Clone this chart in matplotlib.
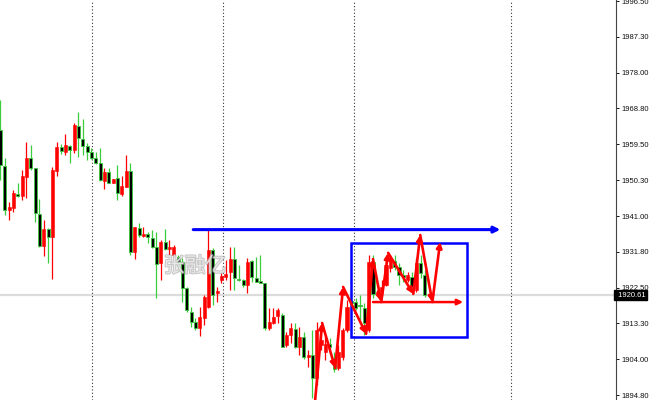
import matplotlib
matplotlib.use("Agg")
import matplotlib.pyplot as plt
import matplotlib.patheffects as pe
from matplotlib.patches import Rectangle

# candle data (one bar per slot)
opens = [1963.2, 1953.9, 1942.6, 1943.1, 1946.7, 1946.2, 1951.1, 1956.0, 1953.4, 1941.5,
         1933.3, 1937.7, 1935.6, 1952.6, 1958.8, 1957.5, 1959.1, 1958.1, 1964.2, 1960.9,
         1959.1, 1957.5, 1956.0, 1954.7, 1950.0, 1952.4, 1949.5, 1950.8, 1946.7, 1948.5,
         1952.6, 1931.7, 1937.9, 1935.9, 1936.4, 1935.3, 1933.0, 1928.9, 1934.3, 1932.5,
         1930.9, 1930.4, 1929.1, 1922.4, 1916.2, 1913.6, 1912.1, 1914.7, 1917.5, 1932.2,
         1921.1, 1924.5, 1925.3, 1926.6, 1929.9, 1924.8, 1924.5, 1923.2, 1929.4, 1925.0,
         1924.2, 1923.7, 1912.1, 1913.4, 1915.2, 1915.4, 1907.7, 1910.3, 1911.8, 1907.2,
         1909.8, 1904.6, 1905.1, 1899.2, 1907.7, 1905.9, 1908.0, 1904.4, 1901.8, 1904.6,
         1911.6, 1919.1, 1918.8, 1918.0, 1917.3, 1911.6, 1929.1, 1920.6, 1921.4, 1923.2,
         1927.6, 1929.4, 1927.8, 1925.8, 1924.5, 1925.3, 1921.9, 1928.9, 1925.8]
highs = [1971.0, 1956.0, 1944.6, 1947.7, 1949.5, 1952.9, 1960.1, 1959.3, 1953.4, 1945.4,
         1940.0, 1937.9, 1953.7, 1960.1, 1959.6, 1962.2, 1959.3, 1965.0, 1967.9, 1966.0,
         1959.9, 1958.6, 1957.5, 1958.6, 1953.4, 1953.4, 1950.6, 1954.2, 1951.3, 1956.7,
         1954.7, 1938.2, 1939.2, 1938.2, 1936.9, 1937.4, 1936.9, 1934.8, 1937.7, 1934.8,
         1933.5, 1930.9, 1930.2, 1922.7, 1917.5, 1914.7, 1917.5, 1920.6, 1937.4, 1932.7,
         1922.7, 1926.3, 1929.7, 1933.0, 1933.0, 1928.4, 1924.8, 1930.2, 1929.7, 1930.4,
         1930.9, 1923.7, 1917.3, 1917.3, 1917.3, 1916.0, 1911.1, 1913.4, 1913.4, 1912.4,
         1911.1, 1906.4, 1911.6, 1913.7, 1911.6, 1910.3, 1909.5, 1905.9, 1907.7, 1912.1,
         1919.3, 1921.9, 1919.9, 1920.6, 1918.6, 1930.9, 1930.9, 1921.9, 1924.5, 1930.2,
         1930.9, 1930.9, 1928.9, 1927.1, 1926.6, 1926.6, 1930.2, 1930.9, 1927.1]
lows = [1950.3, 1941.3, 1940.0, 1942.0, 1945.9, 1945.1, 1945.7, 1952.9, 1939.5, 1933.0,
        1930.7, 1928.9, 1924.8, 1951.3, 1957.0, 1956.7, 1954.7, 1957.3, 1956.2, 1956.7,
        1955.5, 1955.7, 1954.4, 1950.0, 1948.0, 1949.5, 1949.5, 1945.1, 1946.2, 1948.5,
        1930.9, 1929.9, 1935.6, 1935.6, 1934.0, 1932.8, 1919.9, 1924.5, 1932.2, 1930.9,
        1930.4, 1927.8, 1918.8, 1916.2, 1912.4, 1911.6, 1910.0, 1912.9, 1917.3, 1918.0,
        1918.8, 1923.7, 1924.5, 1921.9, 1921.9, 1924.2, 1922.7, 1921.1, 1924.0, 1924.0,
        1923.7, 1911.6, 1911.6, 1913.1, 1913.4, 1907.2, 1907.2, 1908.2, 1906.9, 1905.1,
        1904.1, 1902.0, 1894.0, 1897.4, 1906.4, 1903.8, 1906.7, 1900.7, 1901.3, 1903.8,
        1911.1, 1916.8, 1916.8, 1914.2, 1910.3, 1911.1, 1919.9, 1920.4, 1920.9, 1923.0,
        1926.6, 1927.1, 1923.2, 1924.0, 1924.0, 1921.4, 1921.4, 1925.0, 1920.1]
closes = [1954.2, 1942.6, 1943.3, 1947.0, 1946.2, 1951.3, 1956.0, 1953.4, 1941.8, 1933.3,
          1937.7, 1935.6, 1952.9, 1958.8, 1957.8, 1959.3, 1958.1, 1964.5, 1961.2, 1959.1,
          1957.5, 1956.0, 1954.7, 1950.3, 1952.4, 1949.5, 1950.6, 1947.0, 1948.8, 1952.6,
          1931.7, 1938.2, 1936.1, 1936.4, 1935.6, 1933.0, 1928.6, 1934.3, 1932.5, 1933.0,
          1933.0, 1929.1, 1922.4, 1916.8, 1913.6, 1912.1, 1914.9, 1920.1, 1932.2, 1920.6,
          1921.7, 1925.5, 1926.0, 1929.9, 1925.0, 1924.5, 1923.2, 1929.1, 1925.3, 1924.0,
          1923.7, 1912.1, 1913.7, 1914.9, 1916.8, 1907.2, 1910.3, 1912.1, 1907.2, 1909.8,
          1904.6, 1905.1, 1899.2, 1911.6, 1909.0, 1908.0, 1907.2, 1901.5, 1905.9, 1911.6,
          1917.5, 1918.6, 1917.3, 1917.8, 1913.4, 1929.1, 1920.9, 1921.4, 1922.7, 1928.4,
          1930.2, 1927.8, 1925.8, 1925.3, 1925.8, 1922.7, 1928.9, 1926.3, 1920.61]

price_ticks = [1996.50, 1987.30, 1978.00, 1968.80, 1959.50, 1950.30, 1941.00,
               1931.80, 1922.50, 1913.30, 1904.00, 1894.80]
last_price = 1920.61
separators = [21.1, 51.4, 81.6, 117.9]

# hand drawn marks (bar index, price)
resist_line = [(44.5, 1937.5), (115.4, 1937.5)]
box_x = [80.9, 107.7]
box_y = [1909.8, 1934.05]
support_arrow = [(86.0, 1918.8), (106.8, 1918.8)]
zigzag_x = [72.6, 74.25, 77.25, 79.1, 84.4, 86.0, 87.9, 89.5, 95.3, 96.9, 99.7, 101.5]
zigzag_y = [1893.0, 1913.4, 1901.8, 1922.7, 1910.6, 1929.9, 1918.8, 1931.5, 1920.9, 1936.1, 1918.8, 1934.3]

BULL = "#ff0000"
BEAR_EDGE = "#3ccc3c"

fig = plt.figure(figsize=(6.5, 4), dpi=100)
ax = fig.add_axes([0, 0, 616 / 650, 1])
ax.set_xlim(-0.115, 142.1)
ax.set_ylim(1893.52, 1996.77)

ax.axhline(last_price, color="#dcdcdc", lw=1.6, zorder=0)
for s in separators:
    ax.axvline(s, color="#333333", lw=0.8, ls=(0, (1, 2)), zorder=0)

for i in range(len(opens)):
    o, h, l, c = opens[i], highs[i], lows[i], closes[i]
    up = c >= o
    wick = BULL if up else BEAR_EDGE
    ax.vlines(i, l, h, color=wick, lw=0.9, zorder=2)
    bh = max(abs(c - o), 0.3)
    if up:
        ax.bar(i, bh, bottom=min(o, c), width=0.7, color=BULL, edgecolor=BULL, lw=0.4, zorder=3)
    else:
        ax.bar(i, bh, bottom=min(o, c), width=0.7, color="black", edgecolor=BEAR_EDGE, lw=0.6, zorder=3)

# watermark
ax.text(44.9, 1928.1, "张融亿", fontsize=15, family=["Noto Sans CJK SC", "DejaVu Sans"],
        color="white", alpha=0.6, ha="center", va="center", zorder=4,
        path_effects=[pe.withStroke(linewidth=1.4, foreground="#a0a0a0")])

# annotations
ax.annotate("", xy=resist_line[1], xytext=resist_line[0],
            arrowprops=dict(arrowstyle="-|>", color="#0000ff", lw=2.2, mutation_scale=9,
                            shrinkA=0, shrinkB=0), zorder=5)
ax.add_patch(Rectangle((box_x[0], box_y[0]), box_x[1] - box_x[0], box_y[1] - box_y[0],
                       fill=False, edgecolor="#0000ff", lw=1.8, zorder=5))
ax.annotate("", xy=support_arrow[1], xytext=support_arrow[0],
            arrowprops=dict(arrowstyle="-|>", color="#ff0000", lw=1.8, mutation_scale=8,
                            shrinkA=0, shrinkB=0), zorder=6)
for k in range(len(zigzag_x) - 1):
    ax.annotate("", xy=(zigzag_x[k + 1], zigzag_y[k + 1]), xytext=(zigzag_x[k], zigzag_y[k]),
                arrowprops=dict(arrowstyle="-|>", color="#ff0000", lw=1.9, mutation_scale=8,
                                shrinkA=0, shrinkB=0), zorder=6)

# right price axis
for side in ["top", "left", "bottom"]:
    ax.spines[side].set_visible(False)
ax.spines["right"].set_color("#444444")
ax.spines["right"].set_linewidth(0.8)
ax.set_xticks([])
ax.yaxis.tick_right()
ax.set_yticks(price_ticks)
ax.set_yticklabels([f"{t:.2f}" for t in price_ticks])
ax.tick_params(axis="y", direction="out", length=2.5, width=0.7, pad=1.2,
               labelsize=5.5, colors="#111111")
for lab in ax.get_yticklabels():
    lab.set_family("Liberation Sans")

ax.text(1.0, last_price, f" {last_price:.2f}", transform=ax.get_yaxis_transform(),
        fontsize=5.5, family="Liberation Sans", color="white", ha="left", va="center",
        bbox=dict(boxstyle="square,pad=0.22", fc="black", ec="black"),
        clip_on=False, zorder=10)

fig.savefig("out.png", dpi=100)
